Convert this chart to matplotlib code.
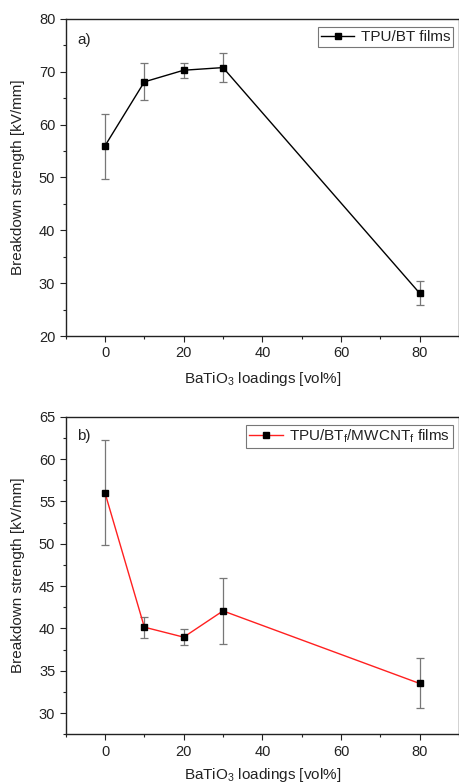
import matplotlib
matplotlib.use("Agg")
import matplotlib.pyplot as plt
from matplotlib.ticker import MultipleLocator

plt.rcParams['font.family'] = ['Liberation Sans', 'DejaVu Sans']
plt.rcParams['mathtext.fontset'] = 'custom'
plt.rcParams['mathtext.rm'] = 'Liberation Sans'
plt.rcParams['mathtext.it'] = 'Liberation Sans'

loadings = [0, 10, 20, 30, 80]

bt_values = [56.0, 68.1, 70.3, 70.8, 28.1]
bt_err_low = [6.2, 3.4, 1.5, 2.8, 2.2]
bt_err_high = [6.1, 3.5, 1.4, 2.8, 2.3]

cnt_values = [56.0, 40.15, 38.97, 42.07, 33.5]
cnt_err_low = [6.2, 1.25, 0.97, 3.87, 2.9]
cnt_err_high = [6.2, 1.15, 0.98, 3.93, 3.0]

xlabel = "BaTiO$_\\mathrm{3}$ loadings [vol%]"
ylabel = "Breakdown strength [kV/mm]"
label_a = "TPU/BT films"
label_b = "TPU/BT$_\\mathrm{f}$/MWCNT$_\\mathrm{f}$ films"

TXT = '#222222'

fig = plt.figure(figsize=(4.6, 7.84), dpi=100)
ax1 = fig.add_axes([0.1428, 0.5714, 0.855, 0.4044])
ax2 = fig.add_axes([0.1428, 0.0634, 0.855, 0.4051])

def style(ax, ylim, ymaj, ymin, xpad):
    ax.set_xlim(-10, 90)
    ax.set_ylim(*ylim)
    ax.xaxis.set_major_locator(MultipleLocator(20))
    ax.xaxis.set_minor_locator(MultipleLocator(10))
    ax.yaxis.set_major_locator(MultipleLocator(ymaj))
    ax.yaxis.set_minor_locator(MultipleLocator(ymin))
    ax.tick_params(which='both', direction='out', top=False, right=False, labelsize=10.5, colors=TXT)
    ax.tick_params(which='major', length=4.5, width=0.8, pad=3)
    ax.tick_params(which='minor', length=2.5, width=0.8)
    for s in ax.spines.values():
        s.set_linewidth(1.0)
        s.set_color(TXT)
    ax.set_xlabel(xlabel, fontsize=11, color=TXT, labelpad=xpad)
    ax.set_ylabel(ylabel, fontsize=11, color=TXT, labelpad=10)

def draw(ax, values, lo, hi, color, label):
    ax.errorbar(loadings, values, yerr=[lo, hi], fmt='none', ecolor='#777777', elinewidth=0.9,
                capsize=3, capthick=0.9)
    ax.plot(loadings, values, color=color, lw=1.0, marker='s', ms=4.5, mfc='black', mec='black',
            label=label)

def legend(ax):
    leg = ax.legend(loc='upper right', bbox_to_anchor=(0.985, 0.975), fontsize=11, frameon=True,
                    fancybox=False, edgecolor='#555555', handlelength=2.2, handletextpad=0.4,
                    borderpad=0.2, borderaxespad=0, markerscale=0.85)
    leg.get_frame().set_linewidth(0.8)
    for t in leg.get_texts():
        t.set_color(TXT)

draw(ax1, bt_values, bt_err_low, bt_err_high, 'black', label_a)
style(ax1, (20, 80), 10, 5, 7)
ax1.text(0.03, 0.955, 'a)', transform=ax1.transAxes, fontsize=11, va='top', ha='left', color=TXT)
legend(ax1)

draw(ax2, cnt_values, cnt_err_low, cnt_err_high, '#ff2020', label_b)
style(ax2, (27.5, 65), 5, 2.5, 5)
ax2.text(0.03, 0.96, 'b)', transform=ax2.transAxes, fontsize=11, va='top', ha='left', color=TXT)
legend(ax2)

fig.savefig('out.png', dpi=100)
